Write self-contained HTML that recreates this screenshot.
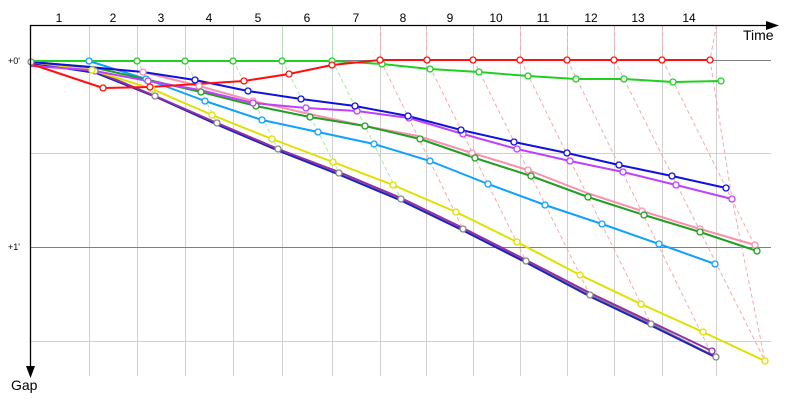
<!DOCTYPE html>
<html><head><meta charset="utf-8"><style>
html,body{margin:0;padding:0;background:#fff;}
svg{display:block;font-family:"Liberation Sans","DejaVu Sans",sans-serif;}
</style></head><body>
<svg width="800" height="400" viewBox="0 0 800 400" xmlns="http://www.w3.org/2000/svg">
<g stroke="#d0d0d0" stroke-width="1">
<line x1="89.5" y1="25" x2="89.5" y2="376"/><line x1="137.5" y1="25" x2="137.5" y2="376"/>
<line x1="185.5" y1="25" x2="185.5" y2="376"/><line x1="233.5" y1="25" x2="233.5" y2="376"/>
<line x1="282.5" y1="25" x2="282.5" y2="376"/><line x1="332.5" y1="25" x2="332.5" y2="376"/>
<line x1="380.5" y1="25" x2="380.5" y2="376"/><line x1="426.5" y1="25" x2="426.5" y2="376"/>
<line x1="473.5" y1="25" x2="473.5" y2="376"/><line x1="520.5" y1="25" x2="520.5" y2="376"/>
<line x1="567.5" y1="25" x2="567.5" y2="376"/><line x1="614.5" y1="25" x2="614.5" y2="376"/>
<line x1="662.5" y1="25" x2="662.5" y2="376"/><line x1="716.5" y1="25" x2="716.5" y2="376"/>
<line x1="31" y1="153.5" x2="771" y2="153.5"/><line x1="31" y1="341.5" x2="771" y2="341.5"/>
</g>
<g stroke="#808080" stroke-width="1">
<line x1="31" y1="60.5" x2="771" y2="60.5"/><line x1="31" y1="247.5" x2="771" y2="247.5"/>
</g>
<g fill="none" stroke-width="1" stroke-dasharray="4,3">
<polyline stroke="#a8d8f8" points="89.5,25 89.5,61 95,71"/>
<g stroke="#a8e8a8">
<polyline points="137.5,25 137.5,61 155,96"/><polyline points="185.5,25 185.5,61 217,123"/>
<polyline points="233.5,25 233.5,61 278,149"/><polyline points="282.5,25 282.5,61 339,173"/>
<polyline points="332.5,25 332.5,61 401,199"/>
</g>
<g stroke="#f8a8a8">
<polyline points="380.5,25 380.5,60 463,229"/><polyline points="426.5,25 426.5,60 526,261"/>
<polyline points="473.5,25 473.5,60 590,295"/><polyline points="520.5,25 520.5,60 651,324"/>
<polyline points="567.5,25 567.5,60 713,357"/><polyline points="614.5,25 614.5,60 765,361"/>
<polyline points="662.5,25 662.5,60 755,246"/><polyline points="716.5,25 710,60 732,199 765,361"/>
</g>
</g>
<g fill="none" stroke-width="2" stroke-linejoin="round">
<polyline stroke="#888" points="31,62 95,71 155,96 217,123 278,149 339,173 401,199 463,229 526,261 590,295 651,324 716,357"/>
<polyline stroke="#2020c0" points="31,63 96,73 156,97 218,125 279,151 340,175 402,201 464,231 527,263 591,297 652,326 713,356"/>
<polyline stroke="#9030a8" points="31,62 95,71 155,96 217,123 278,149 339,172 401,198 463,228 526,260 590,293 651,322 712,351"/>
<polyline stroke="#e0e000" points="31,62 92,70 152,89 212,115 272,139 333,162 393,185 456,212 517,242 580,275 641,304 703,332 765,361"/>
<polyline stroke="#10a0ff" points="31,61 89,61 146,79 205,101 262,120 318,132 374,144 430,161 488,184 545,205 602,224 659,244 715,264"/>
<polyline stroke="#f890b0" points="31,62 143,72 199,86 253,101 305,113 360,125 418,136 472,153 528,170 587,193 642,211 700,229 755,245"/>
<polyline stroke="#20a020" points="31,62 92,67 201,92 256,106 310,117 365,126 420,139 475,158 531,176 588,197 644,215 700,232 757,251"/>
<polyline stroke="#c040ff" points="31,66 90,70 148,81 200,90 253,103 306,108 357,111 409,118 463,134 517,149 570,161 623,172 676,185 732,199"/>
<polyline stroke="#1010e0" points="31,62 89,67 143,72 195,80 248,91 301,99 355,106 408,116 461,130 514,142 567,153 619,165 672,176 726,188"/>
<polyline stroke="#20d020" points="31,61 89,61 137,61 185,61 233,61 282,61 332,61 382,64 430,69 479,72 528,76 576,79 624,79 673,82 721,81"/>
<polyline stroke="#ff1010" points="31,64 103,88 150,87 244,81 289,74 332,65 380,60 427,60 473,60 520,60 567,60 614,60 662,60 710,60"/>
</g>
<g fill="#fff" stroke-width="1.3">
<g stroke="#888"><circle cx="95" cy="71" r="3"/><circle cx="155" cy="96" r="3"/><circle cx="217" cy="123" r="3"/><circle cx="278" cy="149" r="3"/><circle cx="339" cy="173" r="3"/><circle cx="401" cy="199" r="3"/><circle cx="463" cy="229" r="3"/><circle cx="526" cy="261" r="3"/><circle cx="590" cy="295" r="3"/><circle cx="651" cy="324" r="3"/><circle cx="716" cy="357" r="3"/></g>
<g stroke="#9030a8"><circle cx="712" cy="351" r="3"/></g>
<g stroke="#e0e000"><circle cx="92" cy="70" r="3"/><circle cx="152" cy="89" r="3"/><circle cx="212" cy="115" r="3"/><circle cx="272" cy="139" r="3"/><circle cx="333" cy="162" r="3"/><circle cx="393" cy="185" r="3"/><circle cx="456" cy="212" r="3"/><circle cx="517" cy="242" r="3"/><circle cx="580" cy="275" r="3"/><circle cx="641" cy="304" r="3"/><circle cx="703" cy="332" r="3"/><circle cx="765" cy="361" r="3"/></g>
<g stroke="#10a0ff"><circle cx="89" cy="61" r="3"/><circle cx="146" cy="79" r="3"/><circle cx="205" cy="101" r="3"/><circle cx="262" cy="120" r="3"/><circle cx="318" cy="132" r="3"/><circle cx="374" cy="144" r="3"/><circle cx="430" cy="161" r="3"/><circle cx="488" cy="184" r="3"/><circle cx="545" cy="205" r="3"/><circle cx="602" cy="224" r="3"/><circle cx="659" cy="244" r="3"/><circle cx="715" cy="264" r="3"/></g>
<g stroke="#f890b0"><circle cx="143" cy="72" r="3"/><circle cx="199" cy="86" r="3"/><circle cx="253" cy="101" r="3"/><circle cx="472" cy="153" r="3"/><circle cx="528" cy="170" r="3"/><circle cx="642" cy="211" r="3"/><circle cx="700" cy="229" r="3"/><circle cx="755" cy="245" r="3"/></g>
<g stroke="#20a020"><circle cx="201" cy="92" r="3"/><circle cx="256" cy="106" r="3"/><circle cx="310" cy="117" r="3"/><circle cx="365" cy="126" r="3"/><circle cx="420" cy="139" r="3"/><circle cx="475" cy="158" r="3"/><circle cx="531" cy="176" r="3"/><circle cx="588" cy="197" r="3"/><circle cx="644" cy="215" r="3"/><circle cx="700" cy="232" r="3"/><circle cx="757" cy="251" r="3"/></g>
<g stroke="#c040ff"><circle cx="148" cy="81" r="3"/><circle cx="253" cy="103" r="3"/><circle cx="306" cy="108" r="3"/><circle cx="357" cy="111" r="3"/><circle cx="409" cy="118" r="3"/><circle cx="463" cy="134" r="3"/><circle cx="517" cy="149" r="3"/><circle cx="570" cy="161" r="3"/><circle cx="623" cy="172" r="3"/><circle cx="676" cy="185" r="3"/><circle cx="732" cy="199" r="3"/></g>
<g stroke="#1010e0"><circle cx="195" cy="80" r="3"/><circle cx="248" cy="91" r="3"/><circle cx="301" cy="99" r="3"/><circle cx="355" cy="106" r="3"/><circle cx="408" cy="116" r="3"/><circle cx="461" cy="130" r="3"/><circle cx="514" cy="142" r="3"/><circle cx="567" cy="153" r="3"/><circle cx="619" cy="165" r="3"/><circle cx="672" cy="176" r="3"/><circle cx="726" cy="188" r="3"/></g>
<g stroke="#20d020"><circle cx="137" cy="61" r="3"/><circle cx="185" cy="61" r="3"/><circle cx="233" cy="61" r="3"/><circle cx="282" cy="61" r="3"/><circle cx="332" cy="61" r="3"/><circle cx="382" cy="64" r="3"/><circle cx="430" cy="69" r="3"/><circle cx="479" cy="72" r="3"/><circle cx="528" cy="76" r="3"/><circle cx="576" cy="79" r="3"/><circle cx="624" cy="79" r="3"/><circle cx="673" cy="82" r="3"/><circle cx="721" cy="81" r="3"/></g>
<g stroke="#ff1010"><circle cx="103" cy="88" r="3"/><circle cx="150" cy="87" r="3"/><circle cx="244" cy="81" r="3"/><circle cx="289" cy="74" r="3"/><circle cx="332" cy="65" r="3"/><circle cx="380" cy="60" r="3"/><circle cx="427" cy="60" r="3"/><circle cx="473" cy="60" r="3"/><circle cx="520" cy="60" r="3"/><circle cx="567" cy="60" r="3"/><circle cx="614" cy="60" r="3"/><circle cx="662" cy="60" r="3"/><circle cx="710" cy="60" r="3"/></g>
<g stroke="#888"><circle cx="31" cy="62" r="3"/></g>
</g>
<g stroke="#000" stroke-width="1.3">
<line x1="30.5" y1="25" x2="30.5" y2="370"/><line x1="30" y1="25.5" x2="768" y2="25.5"/>
</g>
<polygon points="26,366 35,366 30.5,378" fill="#000"/>
<polygon points="766,21 766,30 779,25.5" fill="#000"/>
<g font-size="12" fill="#000" text-anchor="middle">
<text x="59" y="22">1</text><text x="113" y="22">2</text><text x="161" y="22">3</text><text x="209" y="22">4</text><text x="258" y="22">5</text><text x="307" y="22">6</text><text x="356" y="22">7</text><text x="403" y="22">8</text><text x="450" y="22">9</text><text x="496" y="22">10</text><text x="543" y="22">11</text><text x="591" y="22">12</text><text x="638" y="22">13</text><text x="689" y="22">14</text>
</g>
<text x="743" y="40" font-size="14" fill="#000">Time</text>
<text x="11" y="390" font-size="14" fill="#000">Gap</text>
<text x="8" y="64" font-size="9" fill="#000">+0'</text>
<text x="8" y="250" font-size="9" fill="#000">+1'</text>
</svg>
</body></html>
